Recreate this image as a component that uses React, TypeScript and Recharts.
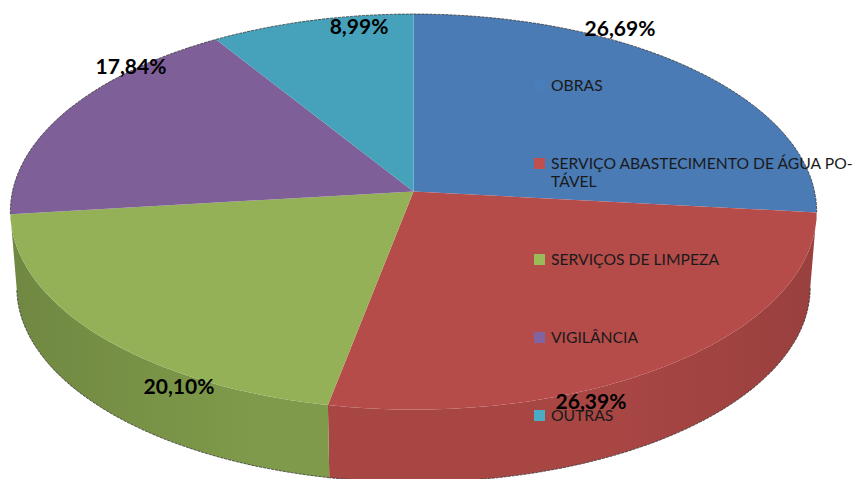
import { PieChart, Pie, Cell, Legend } from "recharts";

const CATEGORIES = [
  "OBRAS",
  "SERVIÇO ABASTECIMENTO DE ÁGUA PO\u00ADTÁVEL",
  "SERVIÇOS DE LIMPEZA",
  "VIGILÂNCIA",
  "OUTRAS",
];
const VALUES = [26.69, 26.39, 20.1, 17.84, 8.99];
const TOP_COLORS = ["#4a7bb5", "#b64c4a", "#94b158", "#7e5f98", "#46a2bb"];
const WALL_COLORS = ["#3f689a", "#a84644", "#7f9a4a", "#6b5082", "#3c8aa0"];
const LEGEND_COLORS = ["#4a7ebb", "#c0504d", "#9bbb59", "#8064a2", "#4bacc6"];

// where each percentage sits, same order as the categories
const LABEL_SPOTS = [
  { x: 620, y: 27 },
  { x: 591, y: 400 },
  { x: 179, y: 385 },
  { x: 131, y: 65 },
  { x: 359, y: 25 },
];

const data = CATEGORIES.map((name, i) => ({ name, value: VALUES[i] }));

// tilted disc: a circle seen in perspective, so the apex is above the ellipse centre
const SQUASH = 0.488;
const TILT = 0.1027;
const DEPTH = 76;
const BASE_SCALE = 0.984;

const project = (deg: number, cx: number, cy: number, r: number) => {
  const a = (deg * Math.PI) / 180;
  const u = Math.cos(a);
  const v = Math.sin(a);
  const d = 1 + TILT * v;
  return { x: cx + (r * u) / d, y: cy - (r * SQUASH * v) / d, v };
};

const arc = (start: number, end: number, cx: number, cy: number, r: number) => {
  const steps = Math.max(2, Math.ceil(Math.abs(end - start)));
  const pts = [];
  for (let i = 0; i <= steps; i++) {
    pts.push(project(start + ((end - start) * i) / steps, cx, cy, r));
  }
  return pts;
};

const toPath = (pts: { x: number; y: number }[]) =>
  pts.map((p, i) => `${i === 0 ? "M" : "L"}${p.x.toFixed(1)},${p.y.toFixed(1)}`).join(" ");

const TopSlice = (props: any) => {
  const { cx, cy, outerRadius, startAngle, endAngle, fill } = props;
  const rim = arc(startAngle, endAngle, cx, cy, outerRadius);
  const back = rim.filter((p) => p.v > -0.12);
  return (
    <g>
      <path d={`M${cx},${cy} ${toPath(rim).replace("M", "L")} Z`} fill={fill} stroke="none" />
      {back.length > 1 && (
        <path d={toPath(back)} fill="none" stroke="#3a3a3a" strokeWidth={1} strokeDasharray="3 1" strokeOpacity={0.8} />
      )}
    </g>
  );
};

const WallSlice = (props: any) => {
  const { cx, cy, outerRadius, startAngle, endAngle, fill } = props;
  // only the front of the rim shows a wall
  const upper = arc(startAngle, endAngle, cx, cy, outerRadius).filter((p) => p.v < -0.1);
  const lower = arc(startAngle, endAngle, cx, cy + DEPTH, outerRadius * BASE_SCALE).filter((p) => p.v < -0.1);
  if (upper.length < 2) return <g />;
  const d = `${toPath(upper)} ${toPath([...lower].reverse()).replace("M", "L")} Z`;
  return (
    <g>
      <path d={d} fill={fill} stroke="none" />
      <path d={d} fill="url(#wallShade)" stroke="none" />
      <path d={toPath(lower)} fill="none" stroke="#3a3a3a" strokeWidth={1} strokeDasharray="3 1" strokeOpacity={0.8} />
    </g>
  );
};

const PercentLabel = (props: any) => {
  const spot = LABEL_SPOTS[props.index];
  return (
    <text
      x={spot.x}
      y={spot.y}
      textAnchor="middle"
      dominantBaseline="central"
      fontFamily="Lato, sans-serif"
      fontWeight={700}
      fontSize={21}
      fill="#000"
    >
      {VALUES[props.index].toFixed(2).replace(".", ",")}%
    </text>
  );
};

const LegendList = () => (
  <div style={{ display: "flex", flexDirection: "column", gap: 60, width: 322 }}>
    {CATEGORIES.map((name, i) => (
      <div key={name} style={{ display: "flex", alignItems: "flex-start", fontSize: 15.7, lineHeight: "18px", color: "#1a1a1a", fontFamily: "Lato, sans-serif" }}>
        <div style={{ width: 11, height: 11, marginTop: 4, marginRight: 6, flexShrink: 0, background: LEGEND_COLORS[i] }} />
        <span style={{ hyphens: "manual" }}>{name}</span>
      </div>
    ))}
  </div>
);

export default function App() {
  return (
    <div style={{ position: "absolute", left: 0, top: 0, width: 856, height: 479, overflow: "hidden", background: "#fff" }}>
      <PieChart width={856} height={479} margin={{ top: 0, right: 0, bottom: 0, left: 0 }}>
        <defs>
          <linearGradient id="wallShade" gradientUnits="userSpaceOnUse" x1={11} y1={0} x2={817} y2={0}>
            <stop offset="0" stopColor="#000" stopOpacity={0.12} />
            <stop offset="0.3" stopColor="#000" stopOpacity={0} />
            <stop offset="0.75" stopColor="#000" stopOpacity={0} />
            <stop offset="1" stopColor="#000" stopOpacity={0.09} />
          </linearGradient>
        </defs>
        <Pie
          data={data}
          dataKey="value"
          nameKey="name"
          cx={413.5}
          cy={191.5}
          outerRadius={401}
          startAngle={90}
          endAngle={-270}
          stroke="none"
          legendType="none"
          shape={WallSlice}
          isAnimationActive={false}
        >
          {WALL_COLORS.map((c) => (
            <Cell key={c} fill={c} />
          ))}
        </Pie>
        <Pie
          data={data}
          dataKey="value"
          nameKey="name"
          cx={413.5}
          cy={191.5}
          outerRadius={401}
          startAngle={90}
          endAngle={-270}
          stroke="none"
          shape={TopSlice}
          label={PercentLabel}
          labelLine={false}
          isAnimationActive={false}
        >
          {TOP_COLORS.map((c) => (
            <Cell key={c} fill={c} />
          ))}
        </Pie>
        <Legend content={<LegendList />} wrapperStyle={{ left: 534, top: 76, width: 322, bottom: "auto" }} />
      </PieChart>
    </div>
  );
}
